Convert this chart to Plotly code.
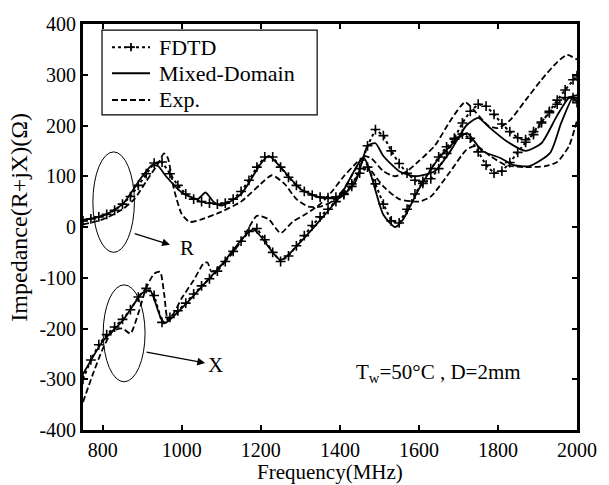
import plotly.graph_objects as go

# ---------------- data ----------------
f_fdtd = [750, 770, 790, 810, 830, 850, 870, 890, 910, 930, 950, 970, 990, 1010, 1030, 1050,
          1070, 1090, 1110, 1130, 1150, 1170, 1190, 1210, 1230, 1250, 1270, 1290, 1310, 1330,
          1350, 1370, 1390, 1410, 1430, 1450, 1470, 1490, 1510, 1530, 1550, 1570, 1590, 1610,
          1630, 1650, 1670, 1690, 1710, 1730, 1750, 1770, 1790, 1810, 1830, 1850, 1870, 1890,
          1910, 1930, 1950, 1970, 1990, 2000]
r_fdtd = [12, 16, 20, 25, 33, 45, 60, 82, 105, 126, 128, 105, 82, 65, 55, 50,
          47, 45, 47, 55, 70, 92, 118, 138, 138, 118, 98, 82, 70, 63,
          59, 58, 59, 64, 80, 115, 160, 192, 180, 150, 125, 106, 92, 86,
          95, 115, 145, 175, 205, 228, 242, 238, 222, 203, 188, 176, 172, 182,
          205, 228, 250, 270, 290, 298]
x_fdtd = [-300, -262, -232, -212, -197, -182, -163, -138, -121, -135, -188, -178, -165, -150, -132, -116,
          -102, -87, -68, -48, -28, -9, -3, -25, -50, -68, -57, -37, -17, 3,
          20, 35, 50, 66, 85, 106, 118, 85, 45, 12, 8, 35, 65, 90,
          115, 138, 158, 173, 183, 175, 148, 122, 106, 110, 127, 147, 167, 188,
          207, 225, 242, 255, 255, 245]

f_mix_r = [750, 800, 850, 900, 925, 940, 960, 1000, 1040, 1060, 1080, 1100, 1150, 1200, 1220, 1250,
           1300, 1350, 1400, 1440, 1470, 1490, 1510, 1550, 1590, 1640, 1680, 1720, 1750, 1780,
           1820, 1870, 1910, 1950, 1980, 2000]
r_mix = [14, 22, 45, 100, 122, 120, 100, 68, 55, 68, 50, 42, 65, 125, 140, 118,
         75, 58, 58, 90, 160, 165, 140, 110, 100, 110, 150, 200, 215, 195,
         170, 150, 165, 220, 255, 260]
f_mix_x = [750, 800, 850, 900, 920, 955, 1000, 1100, 1180, 1250, 1300, 1400, 1460, 1510, 1540,
           1560, 1600, 1650, 1700, 1722, 1760, 1806, 1840, 1880, 1932, 1960, 1990, 2000]
x_mix = [-290, -225, -185, -130, -125, -190, -160, -75, -5, -65, -30, 60, 136, 24, 0,
         15, 75, 135, 175, 185, 150, 136, 122, 120, 146, 205, 256, 245]

f_exp_r = [750, 800, 850, 880, 910, 940, 955, 965, 980, 1000, 1020, 1050, 1100, 1150, 1200, 1228,
           1260, 1290, 1320, 1350, 1380, 1410, 1440, 1460, 1480, 1510, 1540, 1570, 1600, 1640,
           1680, 1717, 1745, 1775, 1800, 1830, 1870, 1910, 1950, 1975, 2000]
r_exp = [5, 15, 35, 55, 90, 125, 145, 135, 75, 25, 10, 15, 30, 50, 85, 102,
         85, 55, 40, 40, 50, 75, 115, 140, 135, 110, 100, 110, 130, 160,
         210, 246, 225, 200, 195, 210, 250, 290, 325, 339, 330]
f_exp_x = [750, 775, 800, 825, 850, 870, 890, 910, 930, 945, 955, 965, 980, 1000, 1030, 1055,
           1065, 1075, 1100, 1130, 1160, 1190, 1220, 1250, 1280, 1317, 1350, 1380, 1410, 1440,
           1455, 1480, 1510, 1550, 1600, 1630, 1680, 1720, 1745, 1780, 1820, 1870, 1920, 1950,
           1980, 2000]
x_exp = [-345, -290, -240, -205, -200, -210, -170, -120, -92, -88, -130, -185, -170, -140, -105, -72,
         -70, -88, -75, -50, -15, 22, 15, -12, 10, 27, 45, 70, 100, 125,
         135, 110, 80, 55, 50, 60, 110, 152, 160, 140, 122, 118, 120, 128,
         160, 210]

x_ticks = [800, 1000, 1200, 1400, 1600, 1800, 2000]
y_ticks = [-400, -300, -200, -100, 0, 100, 200, 300, 400]
legend_names = ["FDTD", "Mixed-Domain", "Exp."]

FONT = "Liberation Serif"
BLACK = "black"

fig = go.Figure()

fdtd_style = dict(mode="lines+markers", line=dict(color=BLACK, width=2, dash="dot"),
                  marker=dict(symbol="cross-thin", size=7, line=dict(color=BLACK, width=1.6)),
                  showlegend=False)
fig.add_trace(go.Scatter(x=f_fdtd, y=r_fdtd, name="FDTD", **fdtd_style))
fig.add_trace(go.Scatter(x=f_fdtd, y=x_fdtd, name="FDTD", **fdtd_style))

mix_style = dict(mode="lines", line=dict(color=BLACK, width=1.8, shape="spline", smoothing=0.6),
                 showlegend=False)
fig.add_trace(go.Scatter(x=f_mix_r, y=r_mix, name="Mixed-Domain", **mix_style))
fig.add_trace(go.Scatter(x=f_mix_x, y=x_mix, name="Mixed-Domain", **mix_style))

exp_style = dict(mode="lines", line=dict(color=BLACK, width=1.8, dash="6px,3px", shape="spline", smoothing=0.6),
                 showlegend=False)
fig.add_trace(go.Scatter(x=f_exp_r, y=r_exp, name="Exp.", **exp_style))
fig.add_trace(go.Scatter(x=f_exp_x, y=x_exp, name="Exp.", **exp_style))

# ---------------- manual legend (paper coords of the plot area) ----------------
fig.add_shape(type="rect", xref="paper", yref="paper", x0=0.0385, x1=0.474, y0=0.776, y1=0.985,
              line=dict(color=BLACK, width=1.2), fillcolor="white", layer="above")
rows = [0.943, 0.879, 0.813]
lx0, lx1, tx = 0.0587, 0.1356, 0.150
dashes = ["dot", "solid", "6px,3px"]
for yy, dsh, name in zip(rows, dashes, legend_names):
    fig.add_shape(type="line", xref="paper", yref="paper", x0=lx0, x1=lx1, y0=yy, y1=yy,
                  line=dict(color=BLACK, width=2, dash=dsh), layer="above")
    fig.add_annotation(xref="paper", yref="paper", x=tx, y=yy, text=name, showarrow=False,
                       xanchor="left", yanchor="middle", font=dict(family=FONT, size=22, color=BLACK))
# the "+" marker of the FDTD legend sample
mx = (lx0 + lx1) / 2
fig.add_shape(type="line", xref="paper", yref="paper", x0=mx - 0.008, x1=mx + 0.008, y0=rows[0], y1=rows[0],
              line=dict(color=BLACK, width=1.8), layer="above")
fig.add_shape(type="line", xref="paper", yref="paper", x0=mx, x1=mx, y0=rows[0] - 0.01, y1=rows[0] + 0.01,
              line=dict(color=BLACK, width=1.8), layer="above")

# ---------------- ellipses, arrows, labels ----------------
fig.add_shape(type="circle", xref="x", yref="y", x0=775, x1=880, y0=-50, y1=148,
              line=dict(color=BLACK, width=1))
fig.add_shape(type="circle", xref="x", yref="y", x0=801, x1=907, y0=-305, y1=-114,
              line=dict(color=BLACK, width=1))

fig.add_annotation(x=970, y=-35, ax=877, ay=-12, xref="x", yref="y", axref="x", ayref="y",
                   showarrow=True, arrowhead=2, arrowsize=1.3, arrowwidth=1.2, arrowcolor=BLACK, text="")
fig.add_annotation(x=1012, y=-41, text="R", showarrow=False, font=dict(family=FONT, size=21, color=BLACK))
fig.add_annotation(x=1059, y=-268, ax=907, ay=-246, xref="x", yref="y", axref="x", ayref="y",
                   showarrow=True, arrowhead=2, arrowsize=1.3, arrowwidth=1.2, arrowcolor=BLACK, text="")
fig.add_annotation(x=1086, y=-272, text="X", showarrow=False, font=dict(family=FONT, size=21, color=BLACK))

fig.add_annotation(x=1650, y=-288, text="T<sub>w</sub>=50°C , D=2mm", showarrow=False,
                   font=dict(family=FONT, size=21, color=BLACK))

# axis titles placed as annotations (pixel position of the reference)
fig.add_annotation(xref="paper", yref="paper", x=0.5, y=-0.1355, text="Frequency(MHz)", showarrow=False,
                   xanchor="center", yanchor="bottom", borderpad=0,
                   font=dict(family=FONT, size=21, color=BLACK))
fig.add_annotation(xref="paper", yref="paper", x=-0.13, y=0.525, text="Impedance(R+jX)(Ω)", showarrow=False,
                   textangle=-90, xanchor="center", yanchor="middle", font=dict(family=FONT, size=24, color=BLACK))

axis_common = dict(showline=True, linecolor=BLACK, linewidth=2.8, mirror="ticks", ticks="inside",
                   ticklen=5, tickwidth=2, tickcolor=BLACK, showgrid=False, zeroline=False,
                   tickfont=dict(family=FONT, size=20, color=BLACK))
fig.update_xaxes(range=[750, 2000], tickvals=x_ticks, ticktext=[str(v) for v in x_ticks], **axis_common)
fig.update_yaxes(range=[-400, 400], tickvals=y_ticks, ticktext=[str(v) for v in y_ticks], **axis_common)

fig.update_layout(
    width=609, height=485,
    margin=dict(l=83, r=32, t=24, b=55),
    paper_bgcolor="white", plot_bgcolor="white",
    font=dict(family=FONT, color=BLACK),
    showlegend=False,
)

fig.write_html("out.html", config={"displayModeBar": False},
               post_script="document.body.style.margin='0px';document.body.style.overflow='hidden';")
